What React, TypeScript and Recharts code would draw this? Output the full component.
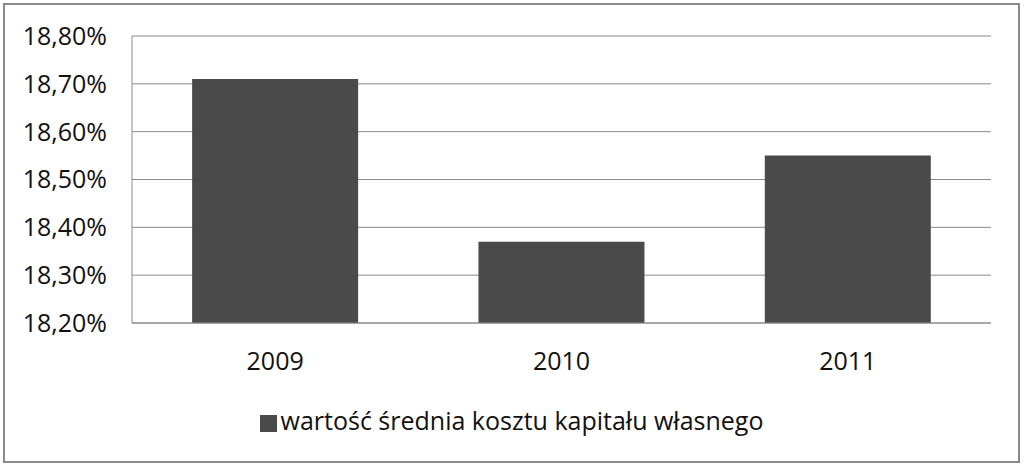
import { Bar, BarChart, CartesianGrid, Legend, XAxis, YAxis } from 'recharts';

const years = ['2009', '2010', '2011'];
const costValues = [18.71, 18.37, 18.55];
const yTicks = [18.2, 18.3, 18.4, 18.5, 18.6, 18.7, 18.8];
const seriesName = 'wartość średnia kosztu kapitału własnego';

const data = years.map((year, i) => ({ year, value: costValues[i] }));

const formatPct = (v: number) => v.toFixed(2).replace('.', ',') + '%';

export default function App() {
    return (
        <div
            style={{
                position: 'absolute',
                left: 0,
                top: 0,
                width: 1024,
                height: 466,
                background: '#fff',
                fontFamily: '"Open Sans", sans-serif',
            }}
        >
            <div
                style={{
                    position: 'absolute',
                    left: 3,
                    top: 3,
                    width: 1013,
                    height: 456,
                    border: '2px solid #8a8a8a',
                }}
            />
            <BarChart
                width={1024}
                height={466}
                data={data}
                margin={{ top: 36, right: 33, left: 0, bottom: 0 }}
                barCategoryGap="21%"
                style={{ position: 'absolute', left: 0, top: 0 }}
            >
                <CartesianGrid stroke="#8a8a8a" vertical={false} />
                <XAxis
                    dataKey="year"
                    height={80}
                    tickLine={false}
                    axisLine={{ stroke: '#8a8a8a' }}
                    tickMargin={23}
                    tick={{ fontSize: 25, fill: '#111' }}
                />
                <YAxis
                    width={132}
                    domain={[18.2, 18.8]}
                    ticks={yTicks}
                    tickFormatter={formatPct}
                    tickLine={false}
                    axisLine={{ stroke: '#8a8a8a' }}
                    tickMargin={19}
                    tick={{ fontSize: 25, fill: '#111' }}
                    allowDataOverflow
                />
                <Legend
                    verticalAlign="bottom"
                    height={63}
                    iconType="square"
                    iconSize={17}
                    wrapperStyle={{ fontSize: 25, left: 21 }}
                    formatter={(value) => <span style={{ color: '#111' }}>{value}</span>}
                />
                <Bar
                    dataKey="value"
                    name={seriesName}
                    fill="#4a4a4a"
                    isAnimationActive={false}
                />
            </BarChart>
        </div>
    );
}
